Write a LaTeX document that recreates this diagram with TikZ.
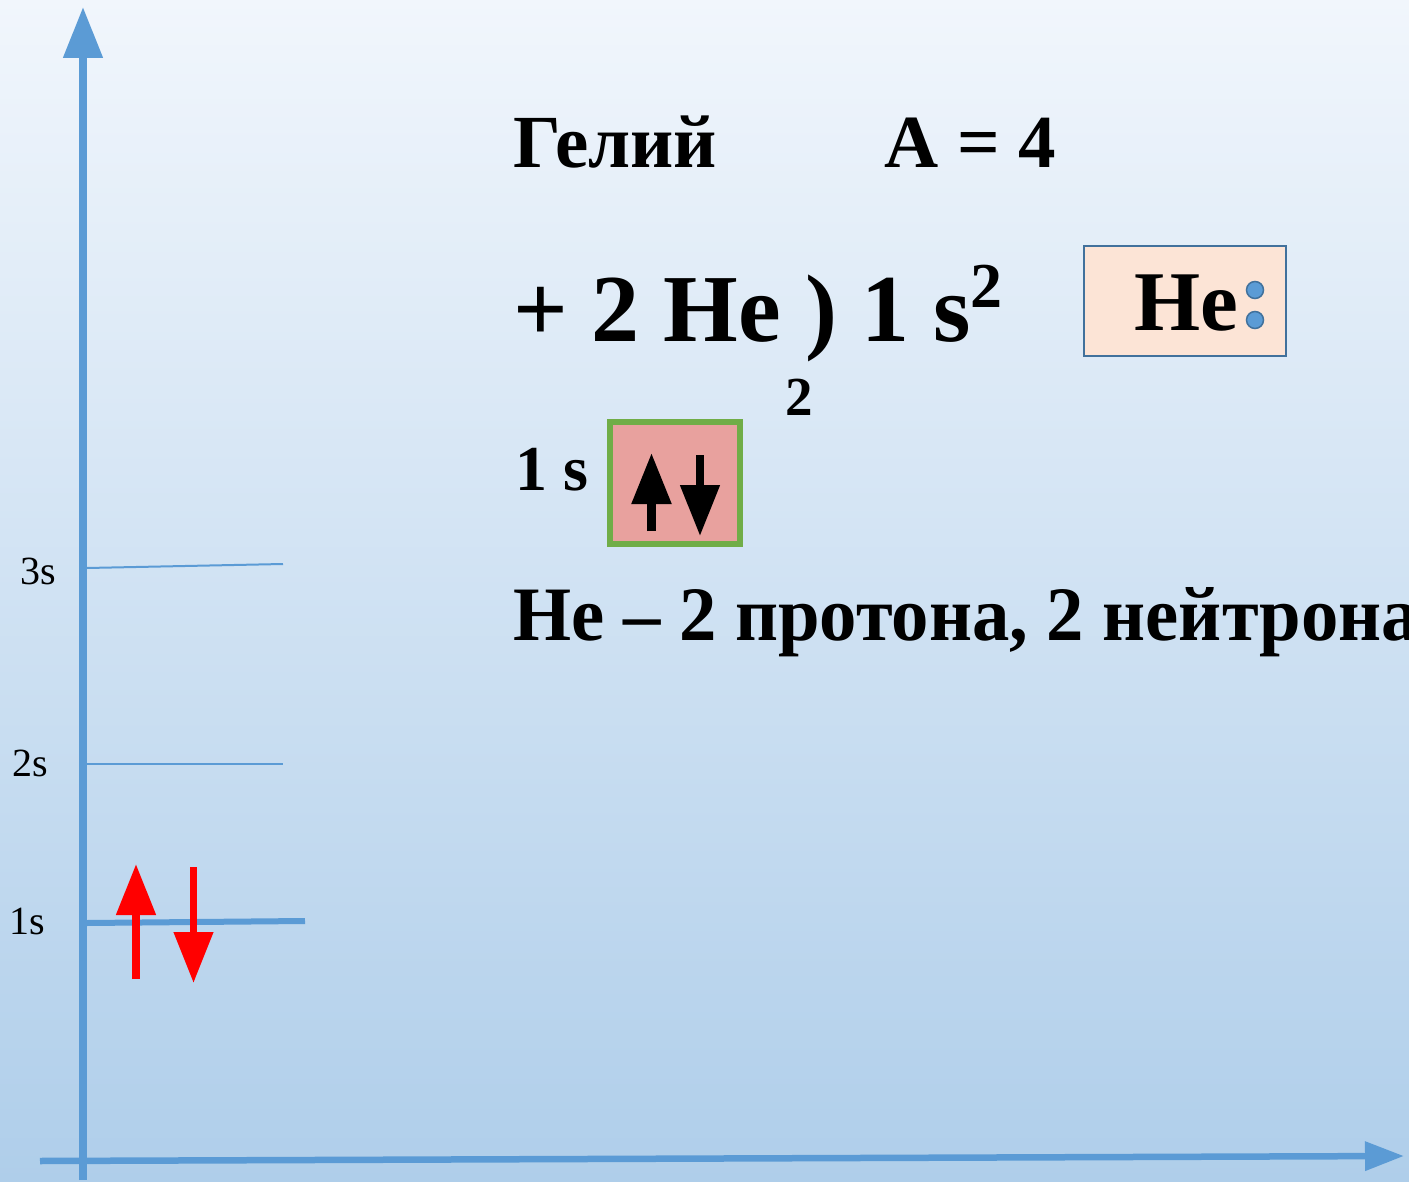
\documentclass[tikz,border=0pt]{standalone}
\usepackage{fontspec}
\setmainfont{Liberation Serif}
\newfontfamily\condserif[FakeStretch=0.97]{Liberation Serif}
\usetikzlibrary{arrows.meta,positioning}

\definecolor{bgtop}{HTML}{F1F6FC}
\definecolor{bgbot}{HTML}{AFCEEA}
\definecolor{axisblue}{HTML}{5B9BD5}
\definecolor{frameblue}{HTML}{41719C}
\definecolor{peach}{HTML}{FCE4D6}
\definecolor{orbpink}{HTML}{E8A19E}
\definecolor{orbgreen}{HTML}{70AD47}

\begin{document}
\begin{tikzpicture}[x=1pt, y=-1pt]
        \tikzstyle{axis}=[draw=axisblue, -{Triangle[length=51pt,width=38pt]}]
        \tikzstyle{level}=[draw=axisblue, line width=2pt]
        \tikzstyle{lbl}=[anchor=base west, inner sep=0pt, font=\fontsize{40}{40}\selectfont]
        \tikzstyle{txt}=[anchor=base west, inner sep=0pt]
        \tikzstyle{spin}=[line width=8pt, -{Triangle[length=51pt,width=38pt]}]
        \tikzstyle{dot}=[circle, draw=frameblue, fill=axisblue, line width=1.5pt, minimum size=17pt, inner sep=0pt]

        \useasboundingbox (0,0) rectangle (1409,1182);
        \shade[top color=bgtop, bottom color=bgbot] (0,0) rectangle (1409,1182);

        % axes
        \coordinate (ybot) at (83,1180);
        \coordinate (ytop) at (83,7);
        \coordinate (xleft) at (40,1161);
        \coordinate (xright) at (1404,1156);
        \draw[axis, line width=8pt] (ybot) -- (ytop);
        \draw[axis, line width=6.5pt, -{Triangle[length=39pt,width=28pt]}] (xleft) -- (xright);

        % levels
        \coordinate (s3a) at (87,568);
        \coordinate (s3b) at (283,564);
        \coordinate (s2a) at (87,764);
        \coordinate (s2b) at (283,764);
        \coordinate (s1a) at (87,923);
        \coordinate (s1b) at (305,921);
        \draw[level] (s3a) -- (s3b);
        \draw[level] (s2a) -- (s2b);
        \draw[level, line width=6pt] (s1a) -- (s1b);
        \node[lbl] (l3) at (20,584) {3s};
        \node[lbl] (l2) at (12,776) {2s};
        \node[lbl] (l1) at (9,934) {1s};

        \coordinate (upa) at (136,979);
        \coordinate (upb) at (136,864);
        \coordinate (dna) at (193.5,867);
        \coordinate (dnb) at (193.5,983);
        \draw[spin, red] (upa) -- (upb);
        \draw[spin, red, line width=7.5pt] (dna) -- (dnb);

        % text
        \node[txt, font=\fontsize{75}{75}\selectfont\bfseries] (name) at (513,168) {Гелий};
        \node[txt, font=\fontsize{75}{75}\selectfont\bfseries] (mass) at (884,168) {A = 4};
        \node[txt, font=\fontsize{96}{96}\selectfont\bfseries] (config) at (513,342)
            {+ 2 He ) 1 s\raisebox{35pt}{\fontsize{64}{64}\selectfont 2}};
        \node[txt, font=\fontsize{55}{55}\selectfont\bfseries] (shell) at (785,416) {2};

        \node[draw=frameblue, fill=peach, line width=2pt, minimum width=202pt, minimum height=110pt] (hebox) at (1185,301) {};
        \node[txt, font=\fontsize{85}{85}\selectfont\bfseries] (he) at (1134,331) {He};
        \node[dot] (d1) at (1255,290) {};
        \node[dot] (d2) at (1255,320) {};

        \node[txt, font=\fontsize{64}{64}\selectfont\bfseries] (sub) at (515,490) {1 s};
        \node[draw=orbgreen, fill=orbpink, line width=6pt, minimum width=130pt, minimum height=122pt] (orb) at (675,483) {};
        \coordinate (oua) at (651.5,531);
        \coordinate (oub) at (651.5,453);
        \coordinate (oda) at (700,455);
        \coordinate (odb) at (700,536);
        \draw[spin, line width=8.5pt] (oua) -- (oub);
        \draw[spin] (oda) -- (odb);

        \node[txt, font=\condserif\fontsize{77}{77}\selectfont\bfseries] (nucl) at (513,640) {He – 2 протона, 2 нейтрона};
    \end{tikzpicture}
\end{document}
